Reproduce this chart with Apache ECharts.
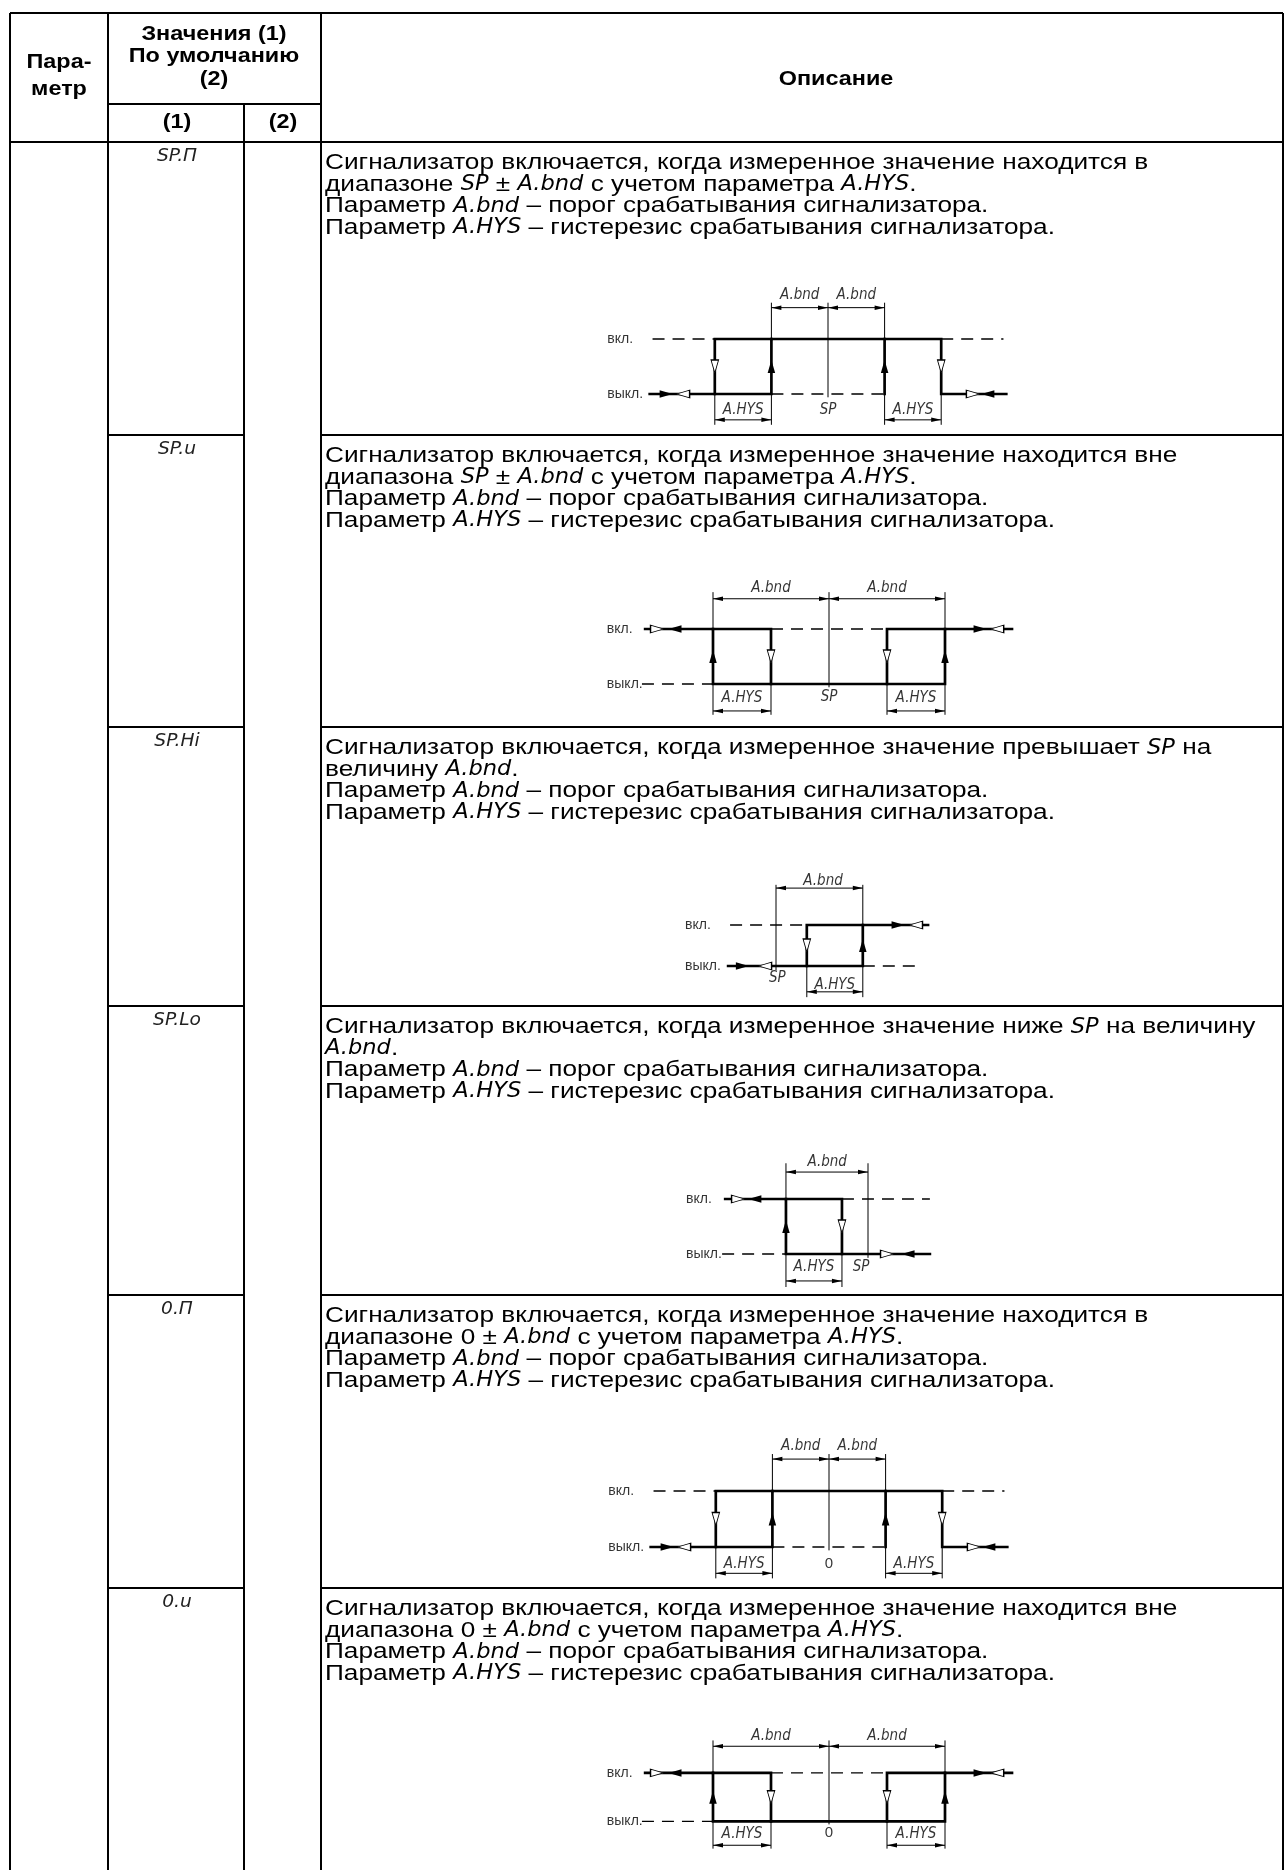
<!DOCTYPE html>
<html><head><meta charset="utf-8">
<script src="https://cdn.jsdelivr.net/npm/echarts/dist/echarts.min.js"></script>
<style>html,body{margin:0;padding:0;background:#fff}#c{width:1285px;height:1870px}</style>
</head><body><div id="c"></div>
<script>
// ---------------- DATA ----------------
const paramCodes = ['SP.П', 'SP.u', 'SP.Hi', 'SP.Lo', '0.П', '0.u'];
const headParam = ['Пара-', 'метр'];
const headValues = ['Значения (1)', 'По умолчанию', '(2)'];
const headSub = ['(1)', '(2)'];
const headDesc = 'Описание';
const descriptions = [
  ['Сигнализатор включается, когда измеренное значение находится в',
   'диапазоне {s|SP} ± {s|A.bnd} с учетом параметра {s|A.HYS}.',
   'Параметр {s|A.bnd} – порог срабатывания сигнализатора.',
   'Параметр {s|A.HYS} – гистерезис срабатывания сигнализатора.'],
  ['Сигнализатор включается, когда измеренное значение находится вне',
   'диапазона {s|SP} ± {s|A.bnd} с учетом параметра {s|A.HYS}.',
   'Параметр {s|A.bnd} – порог срабатывания сигнализатора.',
   'Параметр {s|A.HYS} – гистерезис срабатывания сигнализатора.'],
  ['Сигнализатор включается, когда измеренное значение превышает {s|SP} на',
   'величину {s|A.bnd}.',
   'Параметр {s|A.bnd} – порог срабатывания сигнализатора.',
   'Параметр {s|A.HYS} – гистерезис срабатывания сигнализатора.'],
  ['Сигнализатор включается, когда измеренное значение ниже {s|SP} на величину',
   '{s|A.bnd}.',
   'Параметр {s|A.bnd} – порог срабатывания сигнализатора.',
   'Параметр {s|A.HYS} – гистерезис срабатывания сигнализатора.'],
  ['Сигнализатор включается, когда измеренное значение находится в',
   'диапазоне 0 ± {s|A.bnd} с учетом параметра {s|A.HYS}.',
   'Параметр {s|A.bnd} – порог срабатывания сигнализатора.',
   'Параметр {s|A.HYS} – гистерезис срабатывания сигнализатора.'],
  ['Сигнализатор включается, когда измеренное значение находится вне',
   'диапазона 0 ± {s|A.bnd} с учетом параметра {s|A.HYS}.',
   'Параметр {s|A.bnd} – порог срабатывания сигнализатора.',
   'Параметр {s|A.HYS} – гистерезис срабатывания сигнализатора.']
];
const stateNames = ['выкл.', 'вкл.'];           // state 0 / state 1
const centerLabels = ['SP', 'SP', 'SP', 'SP', '0', '0'];
const rowDiagramType = ['P', 'U', 'H', 'L', 'P', 'U'];

// Type P: inside band (SP.П / 0.П) – x in hysteresis units, y = state
const pThick  = [[[-6.3,0],[-2,0],[-2,1],[4,1],[4,0],[6.3,0]], [[-4,0],[-4,1],[-2,1]], [[2,0],[2,1]]];
const pDashed = [[[-6.2,1],[-4,1]], [[4,1],[6.2,1]], [[-2,0],[2,0]]];
const pThin   = [[[0,1.66],[0,-0.06]], [[-2,1],[-2,1.66]], [[2,1],[2,1.66]],
                 [[-4,0],[-4,-0.56]], [[-2,0],[-2,-0.56]], [[2,0],[2,-0.56]], [[4,0],[4,-0.56]]];
const pDims   = [[[-2,1.57],[0,1.57]], [[0,1.57],[2,1.57]], [[-4,-0.47],[-2,-0.47]], [[2,-0.47],[4,-0.47]]];
const pFilled = [[-5.72,0,'right'], [-2,0.5,'up'], [2,0.5,'up'], [5.65,0,'left']];
const pHollow = [[-5.12,0,'left'], [-4,0.5,'down'], [4,0.5,'down'], [5.12,0,'right']];
const pLabels = [[-1,1.8,'A.bnd'], [1,1.8,'A.bnd'], [-3,-0.3,'A.HYS'], [3,-0.3,'A.HYS']];
const pCenter = [0,-0.3];
const pStateX = -7.8;

// Type U: outside band (SP.u / 0.u)
const uThick  = [[[-6.34,1],[-4,1],[-4,0],[4,0],[4,1],[6.31,1]], [[-4,1],[-2,1],[-2,0]], [[2,0],[2,1],[4,1]]];
const uDashed = [[[-6.45,0],[-4,0]], [[-2,1],[2,1]]];
const uThin   = [[[0,1.67],[0,-0.06]], [[-4,1],[-4,1.67]], [[4,1],[4,1.67]],
                 [[-4,0],[-4,-0.56]], [[-2,0],[-2,-0.56]], [[2,0],[2,-0.56]], [[4,0],[4,-0.56]]];
const uDims   = [[[-4,1.55],[0,1.55]], [[0,1.55],[4,1.55]], [[-4,-0.49],[-2,-0.49]], [[2,-0.49],[4,-0.49]]];
const uFilled = [[-5.31,1,'left'], [-4,0.5,'up'], [4,0.5,'up'], [5.21,1,'right']];
const uHollow = [[-5.93,1,'right'], [-2,0.5,'down'], [2,0.5,'down'], [5.8,1,'left']];
const uLabels = [[-2,1.75,'A.bnd'], [2,1.75,'A.bnd'], [-3,-0.26,'A.HYS'], [3,-0.26,'A.HYS']];
const uCenter = [0,-0.24];
const uStateX = -7.66;

// Type H: above SP (SP.Hi)
const hThick  = [[[-1.71,0],[3.1,0],[3.1,1],[5.43,1]], [[1.1,0],[1.1,1],[3.1,1]]];
const hDashed = [[[-1.64,1],[1.1,1]], [[3.1,0],[5.04,0]]];
const hThin   = [[[0,1.98],[0,-0.1]], [[3.1,1],[3.1,1.98]], [[1.1,0],[1.1,-0.76]], [[3.1,0],[3.1,-0.76]]];
const hDims   = [[[0,1.9],[3.1,1.9]], [[1.1,-0.63],[3.1,-0.63]]];
const hFilled = [[-1.2,0,'right'], [3.1,0.5,'up'], [4.36,1,'right']];
const hHollow = [[-0.39,0,'left'], [1.1,0.5,'down'], [5.0,1,'left']];
const hLabels = [[1.68,2.07,'A.bnd'], [2.1,-0.46,'A.HYS']];
const hCenter = [0.05,-0.29];
const hStateX = -3.25;

// Type L: below SP (SP.Lo)
const lThick  = [[[-5.1,1],[-2.93,1],[-2.93,0],[2.21,0]], [[-2.93,1],[-0.93,1],[-0.93,0]]];
const lDashed = [[[-0.93,1],[2.21,1]], [[-5.21,0],[-2.93,0]]];
const lThin   = [[[0,1.65],[0,-0.07]], [[-2.93,1],[-2.93,1.65]], [[-2.93,0],[-2.93,-0.6]], [[-0.93,0],[-0.93,-0.6]]];
const lDims   = [[[-2.93,1.49],[0,1.49]], [[-2.93,-0.49],[-0.93,-0.49]]];
const lFilled = [[-4.04,1,'left'], [-2.93,0.5,'up'], [1.43,0,'left']];
const lHollow = [[-4.64,1,'right'], [-0.93,0.5,'down'], [0.68,0,'right']];
const lLabels = [[-1.46,1.67,'A.bnd'], [-1.93,-0.24,'A.HYS']];
const lCenter = [-0.25,-0.24];
const lStateX = -6.5;

// ---------------- LAYOUT ----------------
const shapes = {
  P: {thick:pThick, dashed:pDashed, thin:pThin, dims:pDims, filled:pFilled, hollow:pHollow, labels:pLabels, center:pCenter, stateX:pStateX},
  U: {thick:uThick, dashed:uDashed, thin:uThin, dims:uDims, filled:uFilled, hollow:uHollow, labels:uLabels, center:uCenter, stateX:uStateX},
  H: {thick:hThick, dashed:hDashed, thin:hThin, dims:hDims, filled:hFilled, hollow:hHollow, labels:hLabels, center:hCenter, stateX:hStateX},
  L: {thick:lThick, dashed:lDashed, thin:lThin, dims:lDims, filled:lFilled, hollow:lHollow, labels:lLabels, center:lCenter, stateX:lStateX}
};
const diagLayout = [
  {cx:828, y0:394,  ux:28.3, uy:55},
  {cx:829, y0:684,  ux:29,   uy:55},
  {cx:776, y0:966,  ux:28,   uy:41},
  {cx:868, y0:1254, ux:28,   uy:55},
  {cx:829, y0:1547, ux:28.3, uy:56},
  {cx:829, y0:1837, ux:29,   uy:55}
];
const TL = 10, C1 = 108, C2 = 244, C3 = 321, TR = 1283;
const TOP = 13, SUB = 104, HDR = 142, BOTTOM = 1872;
const rowTops = [142, 435, 727, 1006, 1295, 1588];
const XMIN = -9, XMAX = 9, YMIN = -1, YMAX = 2.4;

const BODY_FONT = '"Liberation Sans", Arial, sans-serif';
const SEG_FONT = '"Liberation Sans Narrow", "DejaVu Sans Condensed", "Liberation Sans", sans-serif';
const LW = 2;
const BODY_SIZE = 22.5, BODY_STRETCH = 1.165, LINE_PITCH = 21.6, FIRST_LINE = 21;
const HEAD_SIZE = 19.5, HEAD_STRETCH = 1.2;

const graphics = [];
function hline(x1, x2, y, w) { graphics.push({type:'line', shape:{x1, y1:y, x2, y2:y}, style:{stroke:'#000', lineWidth:w || LW}, silent:true}); }
function vline(x, y1, y2, w) { graphics.push({type:'line', shape:{x1:x, y1, x2:x, y2}, style:{stroke:'#000', lineWidth:w || LW}, silent:true}); }
function text(t, x, y, opt, sx) {
  graphics.push({type:'text', x, y, scaleX: sx || 1, silent:true, style:Object.assign({
    text:t, fill:'#000', fontSize:BODY_SIZE, fontFamily:BODY_FONT, align:'left', verticalAlign:'middle'
  }, opt || {})});
}

// table frame
hline(TL, TR, TOP);
hline(C1, C3, SUB);
hline(TL, TR, HDR);
vline(TL, TOP, BOTTOM);
vline(C1, TOP, BOTTOM);
vline(C2, SUB, BOTTOM);
vline(C3, TOP, BOTTOM);
vline(TR, TOP, BOTTOM);
rowTops.slice(1).forEach(y => { hline(C1, C2, y); hline(C3, TR, y); });

// header texts
const HB = {fontWeight:'bold', fontSize:HEAD_SIZE, align:'center'};
text(headParam[0], 59, 63, HB, HEAD_STRETCH);
text(headParam[1], 59, 90, HB, HEAD_STRETCH);
text(headValues[0], 214, 35, HB, HEAD_STRETCH);
text(headValues[1], 214, 57, HB, HEAD_STRETCH);
text(headValues[2], 214, 80, HB, HEAD_STRETCH);
text(headSub[0], 177, 123, HB, HEAD_STRETCH);
text(headSub[1], 283, 123, HB, HEAD_STRETCH);
text(headDesc, 836, 80, HB, HEAD_STRETCH);

// row texts
const segRich = {s:{fontFamily:SEG_FONT, fontStyle:'italic', fontSize:BODY_SIZE - 1, fill:'#000'}};
rowTops.forEach((top, r) => {
  text(paramCodes[r], 177, top + 14, {align:'center', fontFamily:SEG_FONT, fontStyle:'italic', fontSize:18, fill:'#222'}, 1.15);
  descriptions[r].forEach((line, j) => {
    text(line, 325, top + FIRST_LINE + j * LINE_PITCH, {rich:segRich}, BODY_STRETCH);
  });
});

// ---------------- DIAGRAMS ----------------
const rot = {up:0, down:180, left:90, right:-90};
const DIM_L = 10;
const grids = [], xAxes = [], yAxes = [], series = [];
diagLayout.forEach((dg, i) => {
  const s = shapes[rowDiagramType[i]];
  grids.push({left: dg.cx + XMIN * dg.ux, top: dg.y0 - YMAX * dg.uy,
              width: (XMAX - XMIN) * dg.ux, height: (YMAX - YMIN) * dg.uy});
  xAxes.push({gridIndex:i, type:'value', min:XMIN, max:XMAX, show:false});
  yAxes.push({gridIndex:i, type:'value', min:YMIN, max:YMAX, show:false});
  const ax = {xAxisIndex:i, yAxisIndex:i, silent:true, animation:false};
  series.push(Object.assign({type:'lines', coordinateSystem:'cartesian2d', polyline:true, z:2,
    data:s.thin.map(c => ({coords:c})), lineStyle:{color:'#000', width:1, opacity:1, curveness:0}}, ax));
  series.push(Object.assign({type:'lines', coordinateSystem:'cartesian2d', polyline:true, z:2,
    data:s.dims.map(c => ({coords:c})), lineStyle:{color:'#000', width:1, opacity:1, curveness:0}}, ax));
  series.push(Object.assign({type:'lines', coordinateSystem:'cartesian2d', polyline:true, z:2,
    data:s.dashed.map(c => ({coords:c})), lineStyle:{color:'#000', width:1.3, opacity:1, type:[12,8], curveness:0}}, ax));
  series.push(Object.assign({type:'lines', coordinateSystem:'cartesian2d', polyline:true, z:3,
    data:s.thick.map(c => ({coords:c})), lineStyle:{color:'#000', width:2.7, opacity:1, curveness:0, join:'miter', cap:'square'}}, ax));
  // dimension arrowheads (tips on the dimension line ends)
  const dimPts = [];
  s.dims.forEach(([a, b]) => {
    const [p, q] = a[0] <= b[0] ? [a, b] : [b, a];
    dimPts.push({value:p, symbolRotate:rot.left, symbolOffset:[DIM_L / 2, 0]});
    dimPts.push({value:q, symbolRotate:rot.right, symbolOffset:[-DIM_L / 2, 0]});
  });
  series.push(Object.assign({type:'scatter', symbol:'triangle', symbolSize:[4.5, DIM_L], z:4,
    itemStyle:{color:'#000', opacity:1}, data:dimPts}, ax));
  // flow arrows
  series.push(Object.assign({type:'scatter', symbol:'triangle', symbolSize:[7.5, 13], z:5,
    itemStyle:{color:'#000', opacity:1},
    data:s.filled.map(d => ({value:[d[0], d[1]], symbolRotate:rot[d[2]]}))}, ax));
  series.push(Object.assign({type:'scatter', symbol:'triangle', symbolSize:[7.5, 13], z:5,
    itemStyle:{color:'#fff', borderColor:'#000', borderWidth:1.1, opacity:1},
    data:s.hollow.map(d => ({value:[d[0], d[1]], symbolRotate:rot[d[2]]}))}, ax));
  // labels
  const lbls = s.labels.map(d => ({value:[d[0], d[1]], name:d[2], seg:true}));
  lbls.push({value:s.center, name:centerLabels[i], seg:centerLabels[i] !== '0'});
  series.push(Object.assign({type:'scatter', symbol:'circle', symbolSize:1, z:6,
    itemStyle:{color:'rgba(0,0,0,0)'},
    data:lbls.map(d => ({value:d.value, name:d.name,
      label:{show:true, position:'inside', align:'center', verticalAlign:'middle',
        formatter:d.seg ? '{s|{b}}' : '{b}', color:'#000', fontFamily:BODY_FONT, fontSize:15,
        rich:{s:{fontFamily:SEG_FONT, fontStyle:'italic', fontSize:15, color:'#000'}}}}))}, ax));
  series.push(Object.assign({type:'scatter', symbol:'circle', symbolSize:1, z:6,
    itemStyle:{color:'rgba(0,0,0,0)'},
    data:stateNames.map((n, k) => ({value:[s.stateX, k], name:n})),
    label:{show:true, position:'inside', align:'left', verticalAlign:'middle', formatter:'{b}',
      color:'#000', fontFamily:BODY_FONT, fontSize:14}}, ax));
});

const chart = echarts.init(document.getElementById('c'), null, {renderer:'canvas'});
chart.setOption({
  animation:false,
  backgroundColor:'#fff',
  grid:grids, xAxis:xAxes, yAxis:yAxes, series,
  graphic:{elements:graphics}
});
</script></body></html>
